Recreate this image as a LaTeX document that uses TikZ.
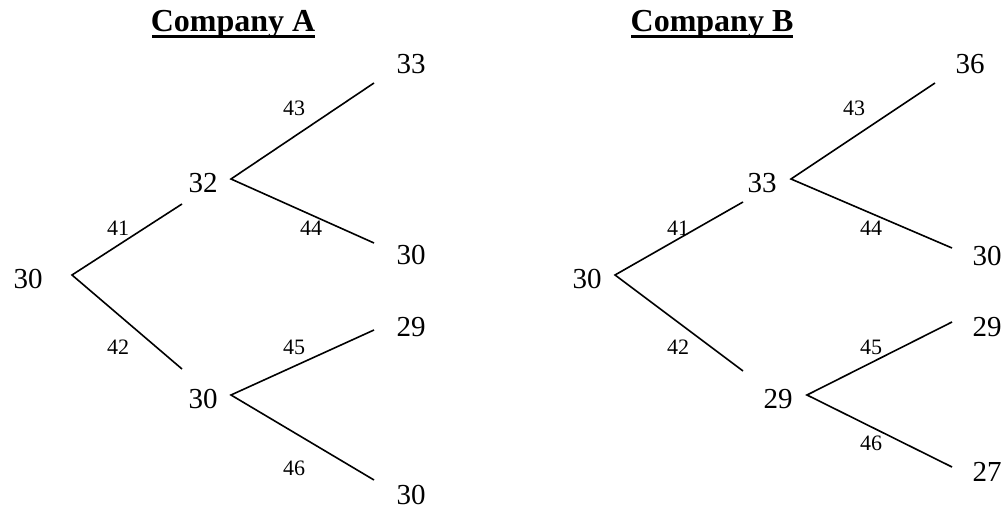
\documentclass[tikz,border=0pt]{standalone}
\usepackage{fontspec}
\setmainfont{Liberation Serif}
\begin{document}
\begin{tikzpicture}[x=1pt,y=-1pt,
  val/.style={inner sep=0pt,font=\fontsize{29}{34}\selectfont},
  lab/.style={inner sep=0pt,font=\fontsize{22}{26}\selectfont},
  ttl/.style={inner sep=0pt,anchor=base,font=\fontsize{32}{38}\selectfont\bfseries},
  br/.style={line width=1.6pt},
  ul/.style={line width=2.6pt}]
\useasboundingbox (0,0) rectangle (1006,510);
% ---------- Company A ----------
\node[ttl] (tA) at (233,32) {Company A};
\coordinate (tAl) at (152,36.5);
\coordinate (tAr) at (315,36.5);
\draw[ul] (tAl) -- (tAr);
\node[val] (a0) at (28,279) {30};
\node[val] (a1) at (203,183) {32};
\node[val] (a2) at (203,399) {30};
\node[val] (a3) at (411,64) {33};
\node[val] (a4) at (411,255) {30};
\node[val] (a5) at (411,327) {29};
\node[val] (a6) at (411,495) {30};
\coordinate (a0v) at (72,275);
\coordinate (a1i) at (182,204);
\coordinate (a2i) at (182,369);
\coordinate (a1v) at (231,179);
\coordinate (a3i) at (374,83);
\coordinate (a4i) at (374,243);
\coordinate (a2v) at (231,395);
\coordinate (a5i) at (374,330);
\coordinate (a6i) at (374,480);
\draw[br] (a1i) -- (a0v) -- (a2i);
\draw[br] (a3i) -- (a1v) -- (a4i);
\draw[br] (a5i) -- (a2v) -- (a6i);
\node[lab] (la41) at (118,228) {41};
\node[lab] (la42) at (118,347) {42};
\node[lab] (la43) at (294,108) {43};
\node[lab] (la44) at (311,228) {44};
\node[lab] (la45) at (294,347) {45};
\node[lab] (la46) at (294,468) {46};
% ---------- Company B ----------
\node[ttl] (tB) at (712,32) {Company B};
\coordinate (tBl) at (631,36.5);
\coordinate (tBr) at (793,36.5);
\draw[ul] (tBl) -- (tBr);
\node[val] (b0) at (587,279) {30};
\node[val] (b1) at (762,183) {33};
\node[val] (b2) at (778,399) {29};
\node[val] (b3) at (970,64) {36};
\node[val] (b4) at (987,256) {30};
\node[val] (b5) at (987,327) {29};
\node[val] (b6) at (987,472) {27};
\coordinate (b0v) at (615,275);
\coordinate (b1i) at (743,202);
\coordinate (b2i) at (743,371);
\coordinate (b1v) at (791,179);
\coordinate (b3i) at (935,83);
\coordinate (b4i) at (952,248);
\coordinate (b2v) at (807,395);
\coordinate (b5i) at (952,322);
\coordinate (b6i) at (952,467);
\draw[br] (b1i) -- (b0v) -- (b2i);
\draw[br] (b3i) -- (b1v) -- (b4i);
\draw[br] (b5i) -- (b2v) -- (b6i);
\node[lab] (lb41) at (678,228) {41};
\node[lab] (lb42) at (678,347) {42};
\node[lab] (lb43) at (854,108) {43};
\node[lab] (lb44) at (871,228) {44};
\node[lab] (lb45) at (871,347) {45};
\node[lab] (lb46) at (871,443) {46};
\end{tikzpicture}
\end{document}
